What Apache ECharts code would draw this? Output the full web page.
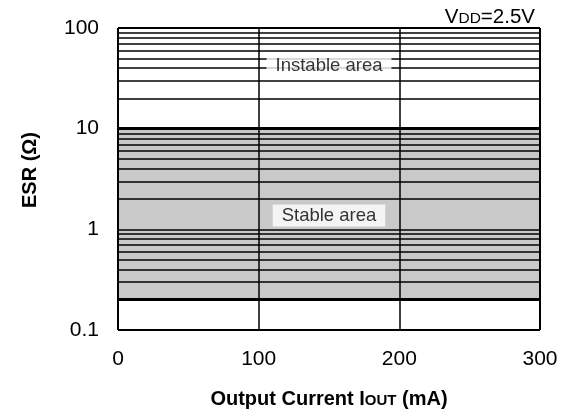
<!DOCTYPE html>
<html>
<head>
<meta charset="utf-8">
<script src="https://cdn.jsdelivr.net/npm/echarts@6/dist/echarts.min.js"></script>
<style>html,body{margin:0;padding:0;background:#fff}#c{width:571px;height:416px}</style>
</head>
<body>
<div id="c"></div>
<script>
// ---- data ----
const xMin = 0, xMax = 300, xStep = 100;
const yMin = 0.1, yMax = 100;
const verticalLines = [100, 200];
const borderX = [0, 300];
const borderY = [0.1, 100];
const thinLines = [0.3, 0.4, 0.5, 0.6, 0.7, 0.8, 0.9, 1, 2, 3, 4, 5, 6, 7, 8, 9, 20, 30, 40, 50, 60, 70, 80, 90];
const thickLines = [0.2, 10];
const stableRange = [0.2, 10];
const areaLabels = [
  { name: 'Instable area', x: 150, y: 42.4 },
  { name: 'Stable area', x: 150, y: 1.37 }
];
const titleText = 'V{s|DD}=2.5V';
const xName = 'Output Current I{s|OUT} (mA)';
const yName = 'ESR (Ω)';

const FONT = '"Liberation Sans", Arial, Helvetica, sans-serif';
const chart = echarts.init(document.getElementById('c'), null, { renderer: 'canvas' });

function lineMark(values, axis, width) {
  return {
    silent: true, symbol: ['none', 'none'], label: { show: false },
    lineStyle: { color: '#000', width: width, type: 'solid' },
    emphasis: { disabled: true },
    data: values.map(v => ({ [axis]: v }))
  };
}

chart.setOption({
  animation: false,
  backgroundColor: '#fff',
  title: {
    text: titleText, right: 31, top: 2,
    textStyle: {
      fontFamily: FONT, fontSize: 20.5, fontWeight: 'normal', color: '#000',
      rich: { s: { fontFamily: FONT, fontSize: 15.5, color: '#000', verticalAlign: 'bottom', padding: [0, 0, 1, 0] } }
    }
  },
  grid: { left: 118, right: 31, top: 28, bottom: 86, show: false },
  xAxis: {
    type: 'value', min: xMin, max: xMax, interval: xStep,
    axisLine: { show: false }, axisTick: { show: false }, splitLine: { show: false },
    axisLabel: { margin: 19, fontFamily: FONT, fontSize: 21, color: '#000' },
    name: xName, nameLocation: 'middle', nameGap: 59,
    nameTextStyle: {
      fontFamily: FONT, fontSize: 20, fontWeight: 'bold', color: '#000',
      rich: { s: { fontFamily: FONT, fontSize: 15, fontWeight: 'bold', color: '#000', verticalAlign: 'bottom', padding: [0, 0, 1, 0] } }
    }
  },
  yAxis: {
    type: 'log', logBase: 10, min: yMin, max: yMax,
    axisLine: { show: false }, axisTick: { show: false }, splitLine: { show: false },
    axisLabel: { margin: 19, fontFamily: FONT, fontSize: 21, color: '#000' },
    name: yName, nameLocation: 'middle', nameGap: 78,
    nameTextStyle: { fontFamily: FONT, fontSize: 20, fontWeight: 'bold', color: '#000', padding: [0, 0, 0, 18] }
  },
  series: [
    {
      type: 'scatter', data: [], z: 1, silent: true,
      markArea: {
        silent: true, itemStyle: { color: '#c9c9c9' }, label: { show: false },
        data: [[{ yAxis: stableRange[0] }, { yAxis: stableRange[1] }]]
      }
    },
    { type: 'scatter', data: [], z: 2, silent: true, markLine: lineMark(thinLines, 'yAxis', 1.5) },
    { type: 'scatter', data: [], z: 3, silent: true, markLine: lineMark(thickLines, 'yAxis', 3) },
    { type: 'scatter', data: [], z: 3, silent: true, markLine: lineMark(verticalLines, 'xAxis', 1.5) },
    {
      type: 'scatter', z: 5, silent: true, symbolSize: 1,
      itemStyle: { color: 'rgba(0,0,0,0)' },
      data: areaLabels.map(d => ({ name: d.name, value: [d.x, d.y] })),
      label: {
        show: true, position: 'inside', formatter: p => p.name,
        fontFamily: FONT, fontSize: 18.5, color: '#000',
        backgroundColor: '#fff', padding: [2, 9, 1, 9]
      }
    },
    { type: 'scatter', data: [], z: 6, silent: true, markLine: lineMark(borderX, 'xAxis', 2) },
    { type: 'scatter', data: [], z: 6, silent: true, markLine: lineMark(borderY, 'yAxis', 2) }
  ]
});
</script>
</body>
</html>
